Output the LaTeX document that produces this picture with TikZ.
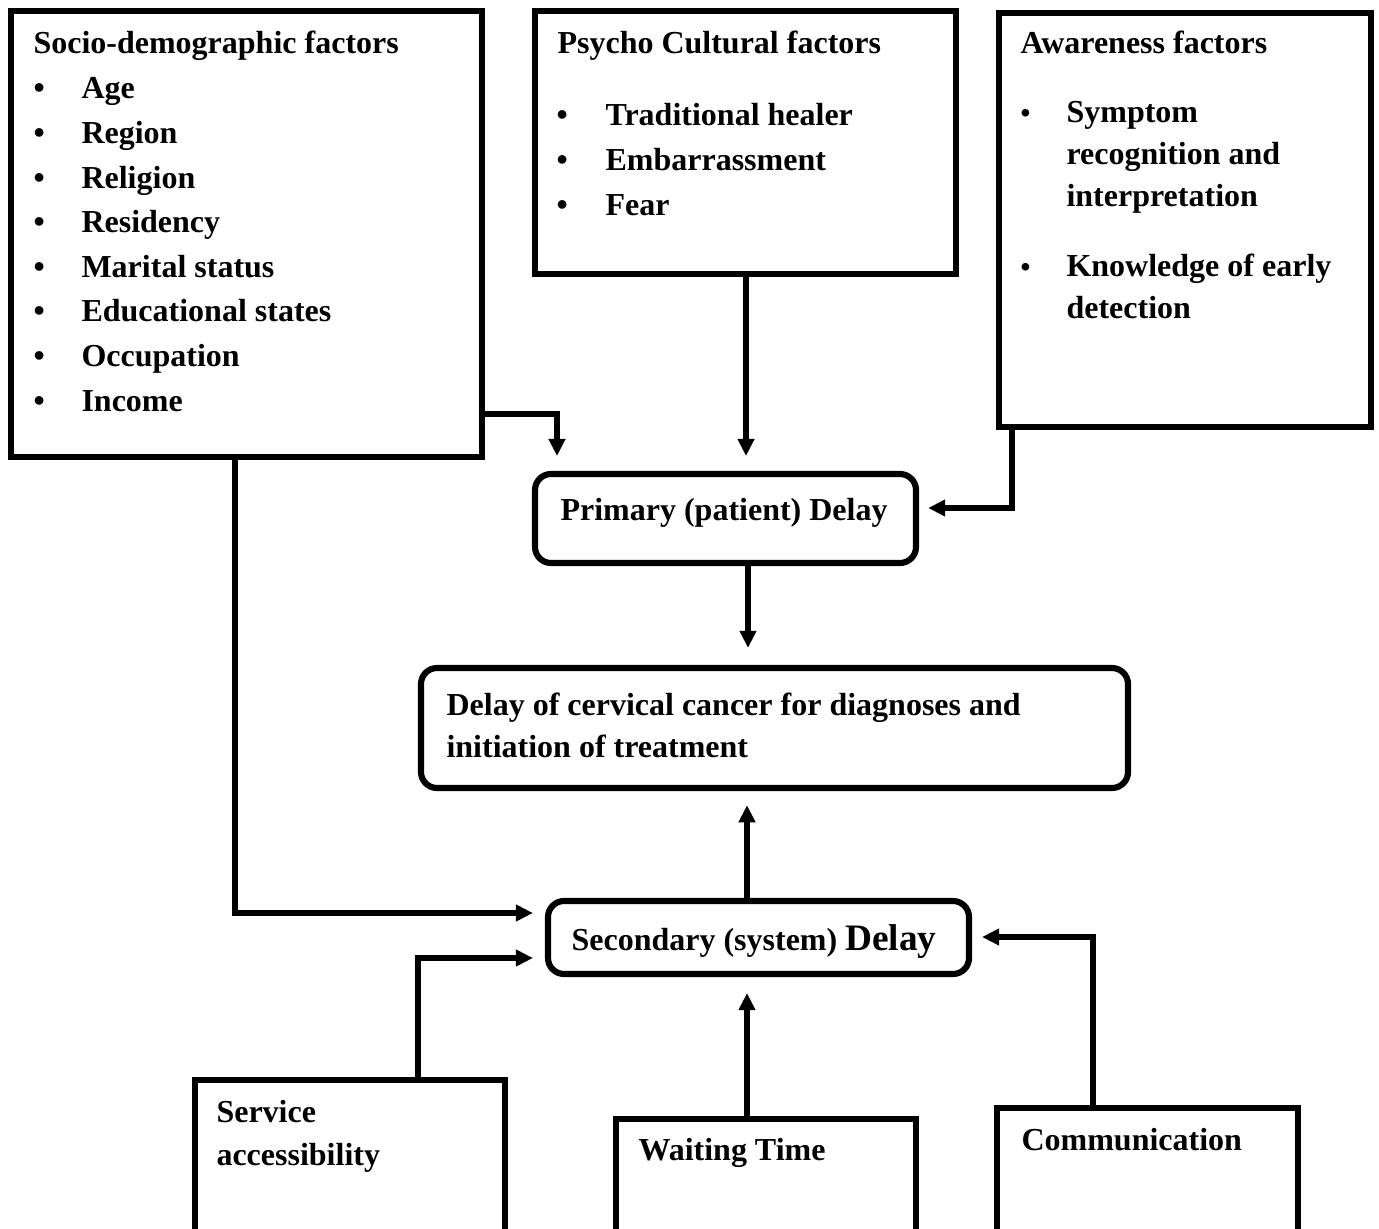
\documentclass[tikz,border=0pt]{standalone}
\usepackage{fontspec}
\setmainfont{Liberation Serif}
\usetikzlibrary{arrows.meta,fit}
\begin{document}
\begin{tikzpicture}[x=0.375pt,y=-0.375pt,
  box/.style={draw=black, line width=2.3pt, inner sep=0pt},
  rbox/.style={box, rounded corners=6pt},
  txt/.style={anchor=base west, inner sep=0pt, font=\fontsize{12}{14}\selectfont\bfseries},
  sbul/.style={anchor=base west, inner sep=0pt, font=\fontsize{10.5}{12}\selectfont\bfseries},
  conn/.style={line width=2pt, -{Triangle[length=6.4pt,width=6pt]}},
]
\clip (0,0) rectangle (1379,1229);
\fill[white] (0,0) rectangle (1379,1229);

% boxes
\node[box, fit={(11,11) (482,457)}] (socio) {};
\node[box, fit={(535,11) (956,274)}] (psycho) {};
\node[box, fit={(999,13) (1371,427)}] (aware) {};
\node[rbox, fit={(535,474) (916,563)}] (primary) {};
\node[rbox, fit={(421,668) (1128,788)}] (main) {};
\node[rbox, fit={(548,901) (969,974)}] (second) {};
\node[box, fit={(195,1080) (505,1270)}] (service) {};
\node[box, fit={(616,1119) (916,1270)}] (waiting) {};
\node[box, fit={(997,1108) (1298,1270)}] (comm) {};

% socio-demographic texts
\node[txt] (sociot) at (33,54) {Socio-demographic factors};
\foreach \t [count=\i] in {Age,Region,Religion,Residency,Marital status,Educational states,Occupation,Income}{
  \node[txt] (sb\i) at (33,{99+44.6*(\i-1)}) {•};
  \node[txt] (si\i) at (81,{99+44.6*(\i-1)}) {\t};
}

% psycho cultural texts
\node[txt] (psychot) at (557,54) {Psycho Cultural factors};
\foreach \t [count=\i] in {Traditional healer,Embarrassment,Fear}{
  \node[txt] (pb\i) at (556,{126+44.6*(\i-1)}) {•};
  \node[txt] (pi\i) at (605,{126+44.6*(\i-1)}) {\t};
}

% awareness texts
\node[txt] (awaret) at (1020,54) {Awareness factors};
\node[sbul] (ab1) at (1020,123) {•};
\node[txt] (a1) at (1066,123) {Symptom};
\node[txt] (a2) at (1066,165) {recognition and};
\node[txt] (a3) at (1066,207) {interpretation};
\node[sbul] (ab2) at (1020,277) {•};
\node[txt] (a4) at (1066,277) {Knowledge of early};
\node[txt] (a5) at (1066,319) {detection};

% delay texts
\node[txt] (primaryt) at (560,520) {Primary (patient) Delay};
\node[txt] (main1) at (446,715) {Delay of cervical cancer for diagnoses and};
\node[txt] (main2) at (446,757) {initiation of treatment};
\node[txt] (secondt) at (571,950) {Secondary (system) {\fontsize{14}{16}\selectfont Delay}};

% bottom texts
\node[txt] (serv1) at (216,1122) {Service};
\node[txt] (serv2) at (216,1165) {accessibility};
\node[txt] (waitt) at (638,1160) {Waiting Time};
\node[txt] (commt) at (1021,1150) {Communication};

% connectors
\coordinate (k1) at (557,414);
\draw[conn, shorten >=5.6pt] (socio.east |- k1) -| (primary.north -| k1);
\coordinate (k2) at (746,300);
\draw[conn, shorten >=5.6pt] (psycho.south -| k2) -- (primary.north -| k2);
\coordinate (k3) at (1012,508);
\draw[conn, shorten >=3.4pt] (aware.south -| k3) |- (primary.east |- k3);
\coordinate (k4) at (748,600);
\draw[conn, shorten >=6.4pt] (primary.south -| k4) -- (main.north -| k4);
\coordinate (k5) at (747,850);
\draw[conn, shorten >=5.3pt] (second.north -| k5) -- (main.south -| k5);
\coordinate (k6) at (235,913);
\draw[conn, shorten >=4.5pt] (socio.south -| k6) |- (second.west |- k6);
\coordinate (k7) at (418,958);
\draw[conn, shorten >=4.5pt] (service.north -| k7) |- (second.west |- k7);
\coordinate (k8) at (747,1050);
\draw[conn, shorten >=6pt] (waiting.north -| k8) -- (second.south -| k8);
\coordinate (k9) at (1093,937);
\draw[conn, shorten >=3.75pt] (comm.north -| k9) |- (second.east |- k9);
\end{tikzpicture}
\end{document}
